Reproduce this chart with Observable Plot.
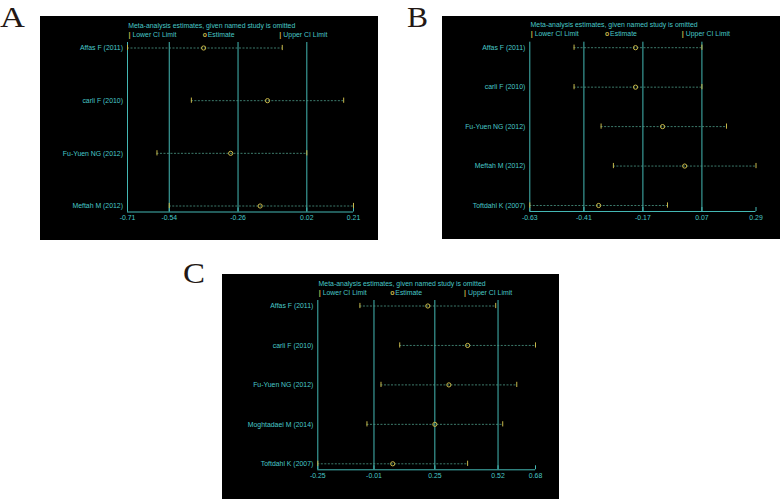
<!DOCTYPE html>
<html>
<head>
<meta charset="utf-8">
<script src="https://cdn.jsdelivr.net/npm/d3@7"></script>
<script src="https://cdn.jsdelivr.net/npm/@observablehq/plot@0.6"></script>
<style>
  html, body { margin: 0; padding: 0; background: #fff; }
  #wrap { position: relative; width: 780px; height: 499px; background: #fff; overflow: hidden; }
  .letter { position: absolute; font-family: "Liberation Serif", "DejaVu Serif", serif; font-size: 30px; line-height: normal; color: #231815; }
  .panel { position: absolute; }
  .panel svg { display: block; }
</style>
</head>
<body>
<div id="wrap">
  <div class="letter" style="left:0px;top:0px;transform:scaleX(1.15);transform-origin:left;">A</div>
  <div class="letter" style="left:407px;top:0px;transform:scaleX(1.05);transform-origin:left;">B</div>
  <div class="letter" style="left:183px;top:256px;transform:scaleX(1.1);transform-origin:left;">C</div>
  <div class="panel" id="pA" style="left:40px;top:16px;"></div>
  <div class="panel" id="pB" style="left:442px;top:16px;"></div>
  <div class="panel" id="pC" style="left:222px;top:274px;"></div>
</div>
<script>
// ---- data ----
const titleText = "Meta-analysis estimates, given named study is omitted";
const legendLabels = ["Lower CI Limit", "Estimate", "Upper CI Limit"];

const studiesA = ["Affas F (2011)", "carli F (2010)", "Fu-Yuen NG (2012)", "Meftah M (2012)"];
const lowerA = [-0.71, -0.45, -0.59, -0.54];
const estA   = [-0.40, -0.14, -0.29, -0.17];
const upperA = [-0.08, 0.17, 0.02, 0.21];
const ticksA = [-0.71, -0.54, -0.26, 0.02, 0.21];

const studiesB = ["Affas F (2011)", "carli F (2010)", "Fu-Yuen NG (2012)", "Meftah M (2012)", "Toftdahl K (2007)"];
const lowerB = [-0.45, -0.45, -0.34, -0.29, -0.63];
const estB   = [-0.20, -0.20, -0.09, 0.00, -0.35];
const upperB = [0.07, 0.07, 0.17, 0.29, -0.07];
const ticksB = [-0.63, -0.41, -0.17, 0.07, 0.29];

const studiesC = ["Affas F (2011)", "carli F (2010)", "Fu-Yuen NG (2012)", "Moghtadaei M (2014)", "Toftdahl K (2007)"];
const lowerC = [-0.07, 0.10, 0.02, -0.04, -0.25];
const estC   = [0.22, 0.39, 0.31, 0.25, 0.07];
const upperC = [0.51, 0.68, 0.60, 0.54, 0.39];
const ticksC = [-0.25, -0.01, 0.25, 0.52, 0.68];

// ---- styles ----
const TEXT = "#48c8c8";
const LINE = "#44b8b4";
const YEL = "#c8b84a";
const DASH = "#4c9a88";

function panel(studies, lower, est, upper, ticks, L) {
  const n = studies.length;
  const rows = studies.map((s, i) => ({i, s, lower: lower[i], est: est[i], upper: upper[i]}));
  const frameH = L.height - L.mT - L.mB;
  const fw = L.width - L.mL - L.mR;
  const gTop = 5.5, gBot = 6;
  const sp = (frameH - gTop - gBot) / (n - 1);
  const eTop = gTop / sp, eBot = gBot / sp;
  const yBot = n - 1 + eBot;
  const tickLen = 4 / sp, capH = 2.6 / sp;
  const xmin = ticks[0], xmax = ticks[ticks.length - 1];
  const refs = ticks.slice(1, -1);
  const fracs = [0.004, 0.333, 0.672];
  const syms = ["|", "o", "|"];
  const gaps = [4, 5, 4];
  const legendMarks = [];
  legendLabels.forEach((lab, k) => {
    legendMarks.push(Plot.text([syms[k]], {text: d => d, frameAnchor: "top-left", dx: fracs[k] * fw, dy: -8, textAnchor: "start", lineAnchor: "middle", fill: YEL, fontWeight: "bold"}));
    legendMarks.push(Plot.text([lab], {text: d => d, frameAnchor: "top-left", dx: fracs[k] * fw + gaps[k], dy: -8, textAnchor: "start", lineAnchor: "middle", fill: TEXT}));
  });
  return Plot.plot({
    width: L.width, height: L.height,
    marginLeft: L.mL, marginRight: L.mR, marginTop: L.mT, marginBottom: L.mB,
    style: {background: "#000", fontFamily: "'Liberation Sans', Arial, sans-serif", fontSize: "6.9px", color: TEXT, overflow: "visible"},
    x: {domain: [xmin, xmax]},
    y: {domain: [yBot, -eTop]},
    marks: [
      Plot.ruleX([xmin, ...refs], {stroke: LINE, strokeWidth: 1}),
      Plot.ruleY([yBot], {x1: xmin, x2: xmax, stroke: LINE, strokeWidth: 1}),
      Plot.ruleX(ticks, {y1: yBot, y2: yBot - tickLen, stroke: LINE, strokeWidth: 1}),
      Plot.axisX({ticks, tickSize: 0, tickPadding: 3.5, tickFormat: d => d.toFixed(2), label: null, fill: TEXT}),
      Plot.axisY({ticks: d3.range(n), tickSize: 0, tickPadding: 4.5, tickFormat: i => studies[i], label: null, fill: TEXT}),
      Plot.ruleY(rows, {y: "i", x1: "lower", x2: "upper", stroke: DASH, strokeWidth: 0.8, strokeDasharray: "2,1.5"}),
      Plot.ruleX(rows, {x: "lower", y1: d => d.i - capH, y2: d => d.i + capH, stroke: YEL, strokeWidth: 1}),
      Plot.ruleX(rows, {x: "upper", y1: d => d.i - capH, y2: d => d.i + capH, stroke: YEL, strokeWidth: 1}),
      Plot.dot(rows, {x: "est", y: "i", r: 2.1, stroke: YEL, fill: "none", strokeWidth: 1}),
      Plot.text([titleText], {text: d => d, frameAnchor: "top-left", dx: 0.8, dy: -17, textAnchor: "start", lineAnchor: "middle", fill: TEXT}),
      ...legendMarks
    ]
  });
}

document.getElementById("pA").append(panel(studiesA, lowerA, estA, upperA, ticksA,
  {width: 338, height: 224, mL: 87, mR: 25, mT: 26, mB: 28.5}));
document.getElementById("pB").append(panel(studiesB, lowerB, estB, upperB, ticksB,
  {width: 338, height: 223, mL: 87.3, mR: 24.5, mT: 25.7, mB: 28}));
document.getElementById("pC").append(panel(studiesC, lowerC, estC, upperC, ticksC,
  {width: 337, height: 225, mL: 95.3, mR: 24, mT: 26, mB: 29.7}));
</script>
</body>
</html>
